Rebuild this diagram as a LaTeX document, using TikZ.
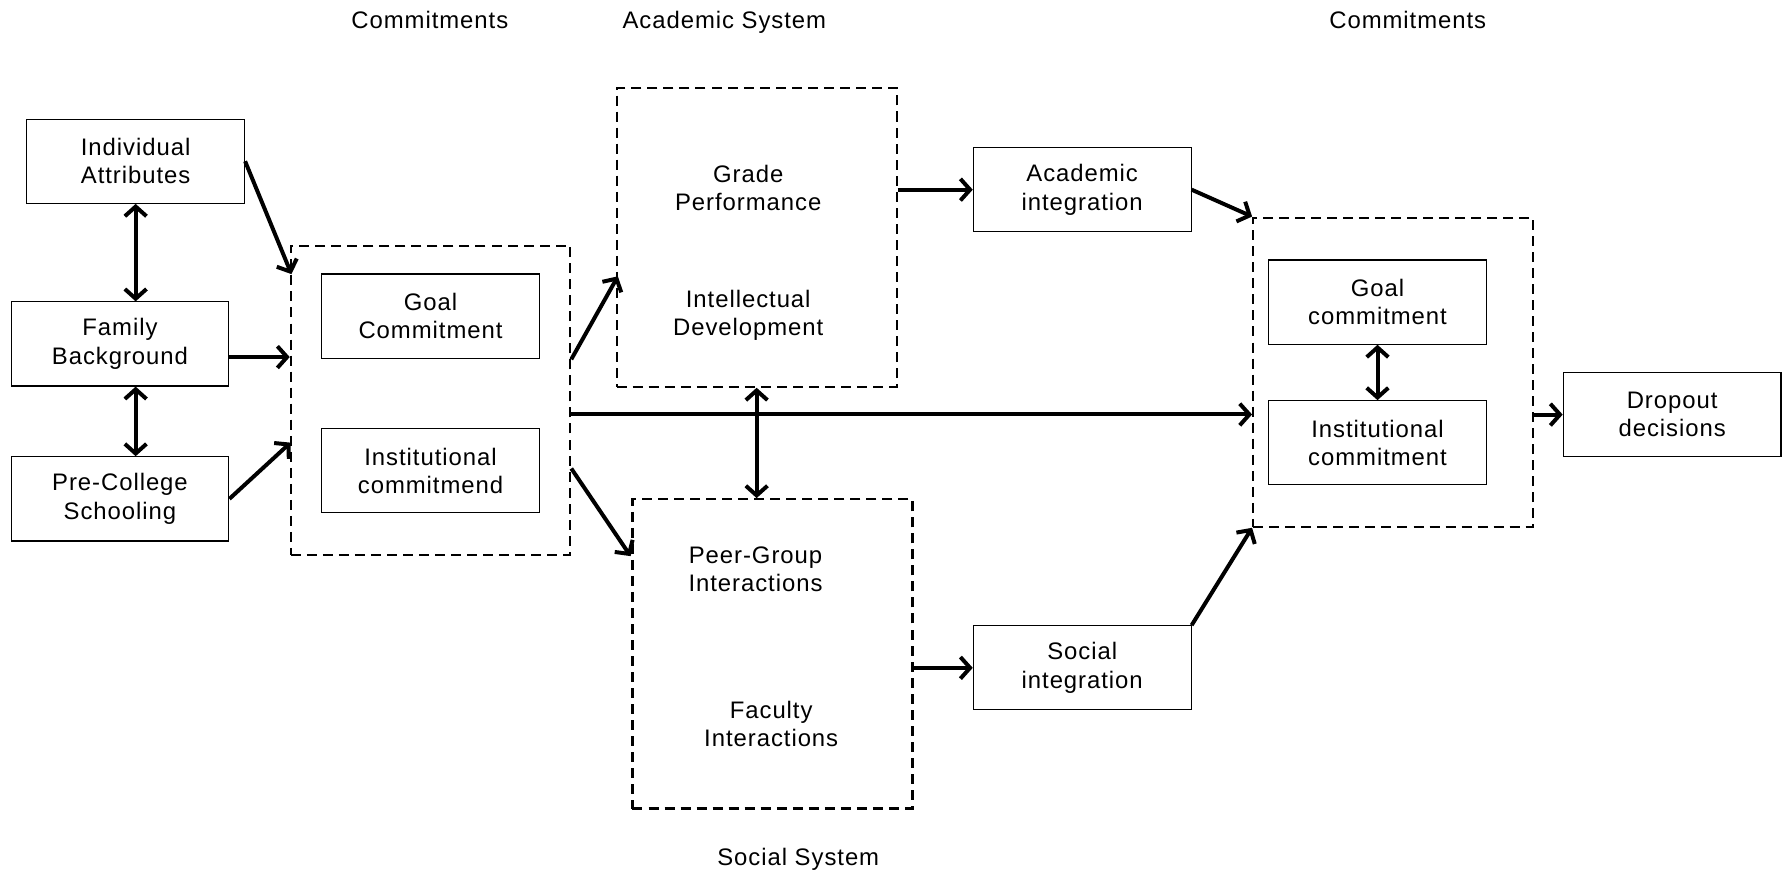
\documentclass[tikz,border=0pt]{standalone}
\usepackage{fontspec}
\setmainfont{Liberation Sans}[LetterSpace=4]
\usetikzlibrary{arrows.meta,calc}
\newcommand\lblfont{\fontsize{21pt}{25pt}\selectfont}
\begin{document}
\begin{tikzpicture}[x=1pt,y=-1pt,
  lbl/.style={font=\lblfont,align=center,inner sep=0pt},
  box/.style={lbl,draw,line width=1pt,minimum width=191.5pt,minimum height=74pt},
  grp/.style={draw,line width=1.9pt,dash pattern=on 8.8pt off 5.3pt,inner sep=0pt},
  tip/.tip={Straight Barb[length=8.5pt,width=19pt]},
  arr/.style={line width=3.5pt,-tip},
  darr/.style={line width=3.5pt,tip-tip}]
\useasboundingbox (0,0) rectangle (1568,769);

% headings
\node[lbl,anchor=base] (hc1) at (378,25) {Commitments};
\node[lbl,anchor=base] (hac) at (637,25) {Academic System};
\node[lbl,anchor=base] (hc2) at (1238,25) {Commitments};
\node[lbl,anchor=base] (hso) at (702,761) {Social System};

% background characteristics
\node[box] (ind) at (119.3,141.8) {Individual\\Attributes};
\node[box] (fam) at (105.5,302.5) {Family\\Background};
\node[box] (pre) at (105.5,438.7) {Pre-College\\Schooling};

% initial commitments
\node[grp,minimum width=245.7pt,minimum height=272pt] (c1) at (378.6,352) {};
\node[box] (goal1) at (378.6,278) {Goal\\Commitment};
\node[box] (inst1) at (378.6,414) {Institutional\\commitmend};

% academic system
\node[grp,minimum width=246.2pt,minimum height=262.5pt] (acad) at (665.4,208.8) {};
\node[lbl] (grade) at (658,165.5) {Grade\\Performance};
\node[lbl] (intel) at (658,277.4) {Intellectual\\Development};

% social system
\node[grp,minimum width=246.2pt,minimum height=272pt] (soc) at (679.3,575) {};
\node[lbl] (peer) at (664.4,500.5) {Peer-Group\\Interactions};
\node[lbl] (fac) at (678.2,636.8) {Faculty\\Interactions};

% integration
\node[box] (ai) at (951.7,166.8) {Academic\\integration};
\node[box] (si) at (951.7,587.3) {Social\\integration};

% later commitments
\node[grp,minimum width=246.3pt,minimum height=271.8pt] (c2) at (1225.2,327.3) {};
\node[box] (goal2) at (1211.4,265.7) {Goal\\commitment};
\node[box] (inst2) at (1211.4,389.4) {Institutional\\commitment};

% outcome
\node[box] (drop) at (1470.5,364.6) {Dropout\\decisions};

% helper points on the group borders
\coordinate (famout) at ($(fam.east)+(0,11.5)$);
\coordinate (c1top) at ($(c1.north west)+(1.5,26)$);
\coordinate (c1low) at ($(c1.south west)+(0.7,-99.7)$);
\coordinate (c1a) at ($(c1.east)+(0,-36)$);
\coordinate (c1m) at ($(c1.east)+(0,12.5)$);
\coordinate (c1s) at ($(c1.east)+(0,60)$);
\coordinate (acin) at ($(acad.west)+(2,34.2)$);
\coordinate (soin) at ($(soc.north west)+(-0.7,51)$);

% connectors
\draw[arr] (ind.east) -- (c1top);
\draw[darr] (ind.south) -- (ind.south |- fam.north);
\draw[darr] (ind.south |- fam.south) -- (ind.south |- pre.north);
\draw[arr] (famout) -- (famout -| c1.west);
\draw[arr] (pre.east) -- (c1low);
\draw[arr] (c1a) -- (acin);
\draw[arr] (c1m) -- (c1m -| c2.west);
\draw[arr] (c1s) -- (soin);
\draw[arr] (ai.west -| acad.east) -- (ai.west);
\draw[darr] (acad.south) -- (acad.south |- soc.north);
\draw[arr] (si.west -| soc.east) -- (si.west);
\draw[arr] (ai.east) -- (c2.north west);
\draw[arr] (si.north east) -- (c2.south west);
\draw[darr] (goal2.south) -- (inst2.north);
\draw[arr] (drop.west -| c2.east) -- (drop.west);
\end{tikzpicture}
\end{document}
